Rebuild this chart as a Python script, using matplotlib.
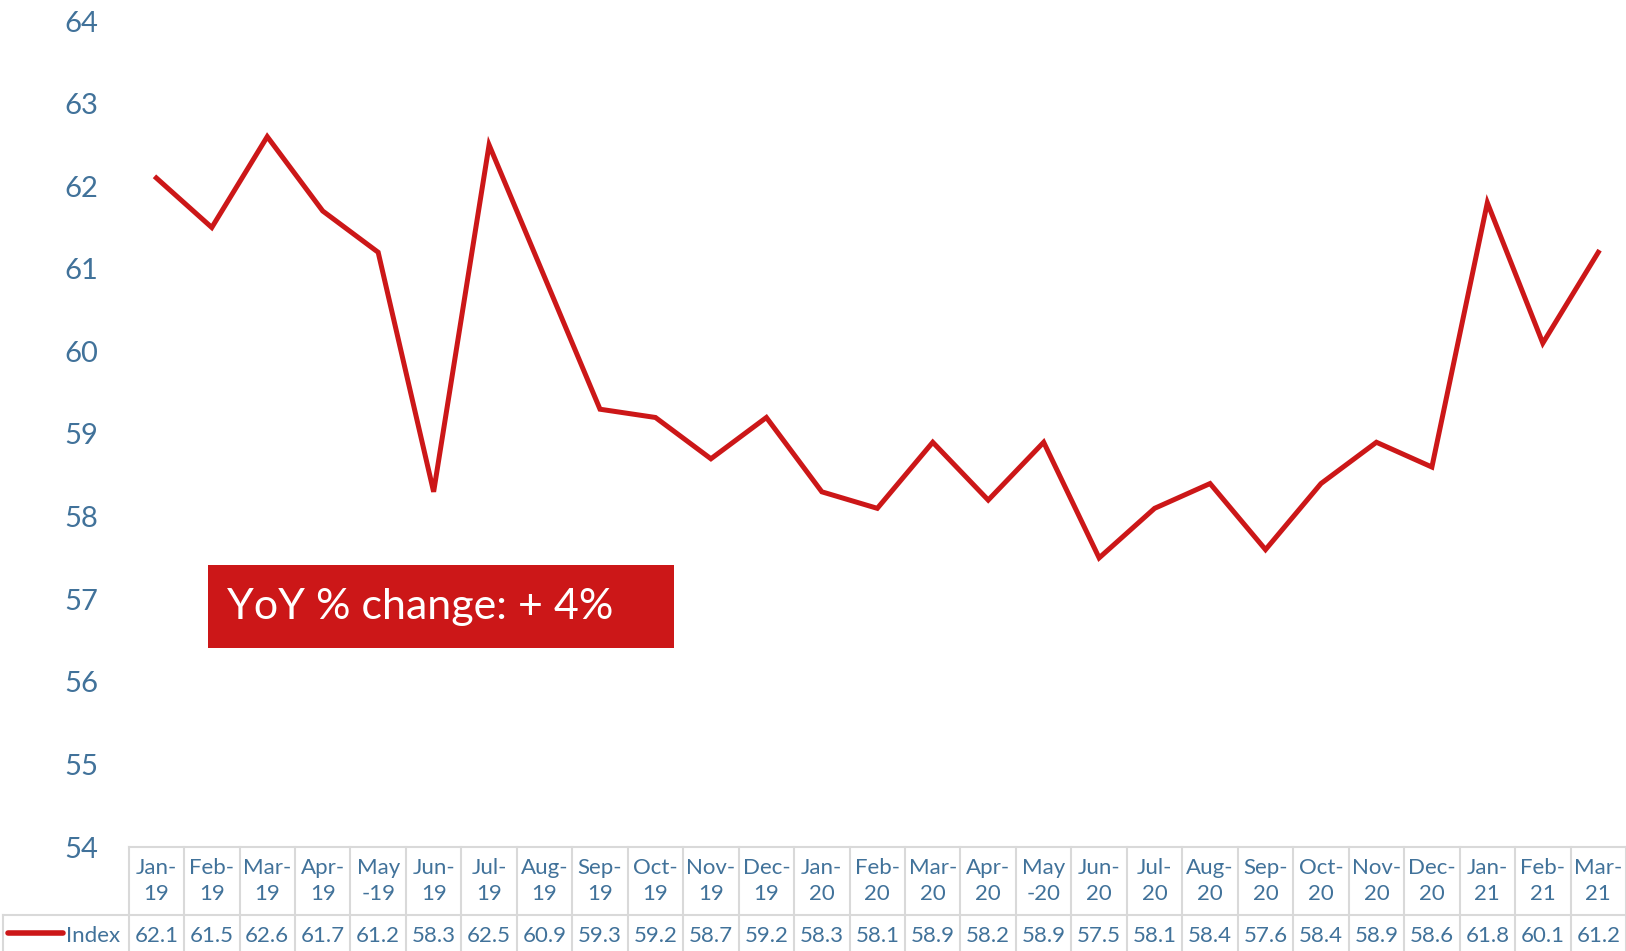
import matplotlib
matplotlib.use("Agg")
import matplotlib.pyplot as plt
import matplotlib.transforms as mtransforms
from matplotlib.patches import Rectangle

plt.rcParams['font.family'] = ['Lato', 'DejaVu Sans']

months = ["Jan-\n19", "Feb-\n19", "Mar-\n19", "Apr-\n19", "May\n-19", "Jun-\n19",
          "Jul-\n19", "Aug-\n19", "Sep-\n19", "Oct-\n19", "Nov-\n19", "Dec-\n19",
          "Jan-\n20", "Feb-\n20", "Mar-\n20", "Apr-\n20", "May\n-20", "Jun-\n20",
          "Jul-\n20", "Aug-\n20", "Sep-\n20", "Oct-\n20", "Nov-\n20", "Dec-\n20",
          "Jan-\n21", "Feb-\n21", "Mar-\n21"]
index_vals = [62.1, 61.5, 62.6, 61.7, 61.2, 58.3, 62.5, 60.9, 59.3, 59.2, 58.7, 59.2,
              58.3, 58.1, 58.9, 58.2, 58.9, 57.5, 58.1, 58.4, 57.6, 58.4, 58.9, 58.6,
              61.8, 60.1, 61.2]
yoy_text = "YoY % change: + 4%"

red = "#CC1718"
blue = "#41729A"
grid = "#D9D9D9"

W, H = 1626, 951
fig = plt.figure(figsize=(W / 100, H / 100), dpi=100)
left_px, top_px, bottom_px = 128.6, 21, 847
ax = fig.add_axes([left_px / W, 1 - bottom_px / H, 1 - left_px / W, (bottom_px - top_px) / H])

x = list(range(len(months)))
ax.plot(x, index_vals, color=red, lw=3.6, solid_joinstyle="miter")
ax.set_xlim(-0.5, len(months) - 0.5)
ax.set_ylim(54, 64)
ax.set_yticks(range(54, 65))
ax.set_xticks([])
ax.tick_params(axis="y", length=0, pad=22, labelsize=21, labelcolor=blue)
for s in ax.spines.values():
    s.set_visible(False)

# data table under the plot
ax_h = bottom_px - top_px
r1 = -(915 - bottom_px) / ax_h
r2 = -(951 - bottom_px) / ax_h
for xb in [i - 0.5 for i in range(len(months) + 1)]:
    ax.plot([xb, xb], [0, r2], color=grid, lw=1.5, transform=ax.get_xaxis_transform(), clip_on=False)
ax.plot([-0.5, len(months) - 0.5], [0, 0], color=grid, lw=1.5,
        transform=ax.get_xaxis_transform(), clip_on=False)
bt = mtransforms.blended_transform_factory(fig.transFigure, ax.transAxes)
ax.plot([0.002, 1], [r1, r1], color=grid, lw=1.5, transform=bt, clip_on=False)
ax.plot([0.002, 0.002], [r1, r2], color=grid, lw=1.5, transform=bt, clip_on=False)

row2_mid = (r1 + r2) / 2 - 3 / ax_h
for i, (m, v) in enumerate(zip(months, index_vals)):
    ax.text(i, (0 + r1) / 2, m, ha="center", va="center", fontsize=16, color=blue,
            linespacing=1.4, transform=ax.get_xaxis_transform(), clip_on=False)
    ax.text(i, row2_mid, f"{v:.1f}", ha="center", va="center", fontsize=16, color=blue,
            transform=ax.get_xaxis_transform(), clip_on=False)

# legend key
ax.plot([8 / W, 63 / W], [(r1 + r2) / 2] * 2, color=red, lw=4, solid_capstyle="round",
        transform=bt, clip_on=False)
ax.text(66 / W, row2_mid, "Index", ha="left", va="center", fontsize=16, color=blue,
        transform=bt, clip_on=False)

# annotation box
bx0, bx1, by0, by1 = 208, 674, 565, 648
fig.patches.append(Rectangle((bx0 / W, 1 - by1 / H), (bx1 - bx0) / W, (by1 - by0) / H,
                             transform=fig.transFigure, facecolor=red, edgecolor="none"))
fig.text((bx0 + 19) / W, 1 - (by0 + by1) / 2 / H, yoy_text, ha="left", va="center",
         fontsize=31, color="white")

fig.savefig("out.png", dpi=100)
